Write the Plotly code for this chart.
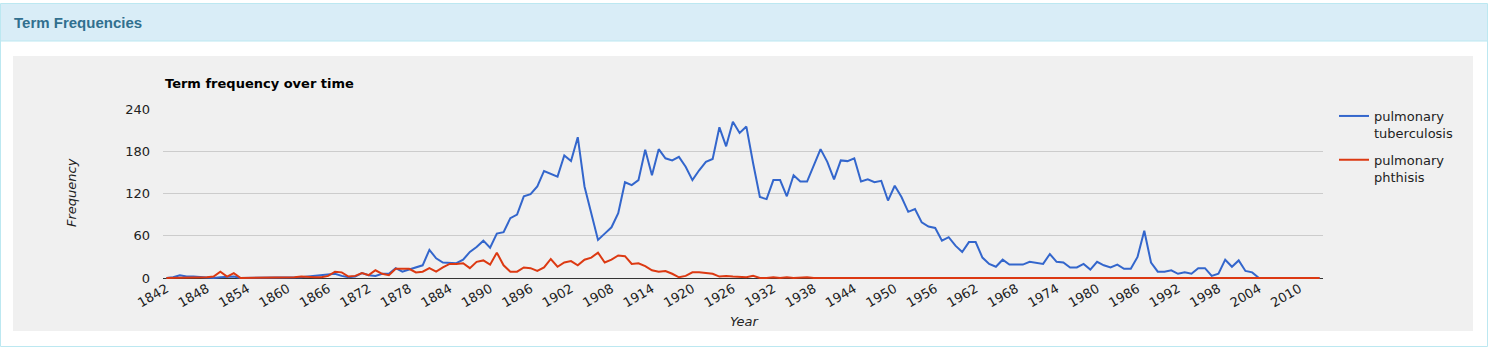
import plotly.graph_objects as go

# ---------------- data ----------------
years = list(range(1842, 2014))

tuberculosis = [
    0, 1, 4, 2, 2, 1, 1, 0, 1, 1,
    2, 0, 0, 0, 0, 1, 0, 1, 1, 1,
    1, 2, 3, 3, 4, 6, 3, 1, 2, 7,
    4, 3, 6, 6, 14, 9, 12, 15, 18, 40,
    28, 22, 21, 21, 26, 37, 44, 53, 43, 63,
    65, 85, 90, 116, 119, 130, 152, 148, 144, 174,
    166, 200, 130, 92, 54, 63, 72, 92, 136, 132,
    139, 182, 146, 183, 170, 167, 172, 158, 139, 153,
    165, 169, 214, 187, 222, 206, 215, 163, 115, 112,
    139, 139, 116, 146, 137, 137, 159, 183, 165, 140,
    167, 166, 170, 137, 140, 136, 138, 110, 131, 115,
    94, 98, 79, 73, 71, 53, 58, 46, 37, 51,
    51, 29, 20, 16, 26, 19, 19, 19, 23, 21,
    20, 34, 23, 22, 15, 15, 20, 12, 23, 18,
    15, 19, 13, 13, 30, 67, 22, 9, 9, 11,
    6, 8, 6, 14, 14, 3, 6, 26, 16, 25,
    10, 8, 0, 0, 0, 0, 0, 0, 0, 0,
    0, 0,
]

phthisis = [
    0, 0, 1, 1, 0, 1, 1, 2, 9, 2,
    7, 0, 0, 0, 0, 0, 1, 0, 1, 1,
    2, 1, 1, 1, 3, 9, 8, 2, 3, 7,
    4, 11, 6, 4, 13, 13, 13, 8, 9, 14,
    9, 15, 20, 20, 21, 14, 23, 25, 19, 36,
    18, 9, 9, 15, 14, 10, 15, 27, 16, 22,
    24, 18, 26, 29, 36, 22, 26, 32, 31, 20,
    21, 17, 11, 9, 10, 6, 1, 3, 8, 8,
    7, 6, 2, 3, 2, 1, 1, 3, 0, 0,
    1, 0, 1, 0, 1, 1, 0, 0, 1, 1,
    1, 1, 0, 0, 0, 0, 0, 1, 0, 0,
    0, 1, 0, 0, 0, 0, 0, 0, 0, 0,
    0, 0, 0, 0, 0, 0, 0, 0, 0, 0,
    0, 0, 0, 0, 0, 0, 0, 0, 0, 1,
    0, 0, 0, 0, 0, 0, 0, 0, 0, 0,
    0, 0, 0, 0, 0, 0, 0, 0, 0, 0,
    0, 0, 0, 0, 0, 0, 0, 0, 0, 0,
    0, 0,
]

x_tick_years = [1842, 1848, 1854, 1860, 1866, 1872, 1878, 1884, 1890, 1896,
                1902, 1908, 1914, 1920, 1926, 1932, 1938, 1944, 1950, 1956,
                1962, 1968, 1974, 1980, 1986, 1992, 1998, 2004, 2010]
y_tick_values = [0, 60, 120, 180, 240]

series_names = ["pulmonary<br>tuberculosis", "pulmonary<br>phthisis"]
series_colors = ["#3366cc", "#dc3912"]

# ---------------- layout geometry (pixels) ----------------
W, H = 1495, 351
PL, PR, PT = 163, 1323, 109   # plot area left/right/top
ZERO_Y = 278                   # pixel row of value 0
PB = 281                       # plot area bottom (a little below zero so the 0-line of the series shows)
Y_MAX = 240
units_per_px = Y_MAX / (ZERO_Y - PT)
Y_MIN = -(PB - ZERO_Y) * units_per_px


def px(xp):
    return (xp - PL) / (PR - PL)


def py(yp):
    return (PB - yp) / (PB - PT)


CHART_FONT = "DejaVu Sans"

fig = go.Figure()
for vals, name, col in zip([tuberculosis, phthisis], series_names, series_colors):
    fig.add_trace(go.Scatter(
        x=years, y=vals, mode="lines", name=name, legendgroup=name,
        line=dict(color=col, width=2),
        hoverinfo="x+y+name",
    ))

shapes = [
    # panel
    dict(type="rect", xref="paper", yref="paper", layer="below",
         x0=px(0.5), x1=px(1487.5), y0=py(3.5), y1=py(346.5),
         fillcolor="#ffffff", line=dict(color="#bce8f1", width=1)),
    # panel heading
    dict(type="rect", xref="paper", yref="paper", layer="below",
         x0=px(1), x1=px(1487), y0=py(4), y1=py(41),
         fillcolor="#d9edf7", line=dict(width=0)),
    dict(type="line", xref="paper", yref="paper", layer="below",
         x0=px(1), x1=px(1487), y0=py(41), y1=py(41),
         line=dict(color="#bce8f1", width=1)),
    # chart background
    dict(type="rect", xref="paper", yref="paper", layer="below",
         x0=px(13), x1=px(1473), y0=py(56), y1=py(331),
         fillcolor="#f0f0f0", line=dict(width=0)),
]

annotations = [
    dict(text="<b>Term Frequencies</b>", xref="paper", yref="paper",
         x=px(12), y=py(22), xanchor="left", yanchor="middle", showarrow=False,
         font=dict(family="Liberation Sans", size=15, color="#31708f")),
    dict(text="<b>Term frequency over time</b>", xref="paper", yref="paper",
         x=px(163), y=py(83), xanchor="left", yanchor="middle", showarrow=False,
         font=dict(family=CHART_FONT, size=13, color="#000000")),
    dict(text="<i>Frequency</i>", xref="paper", yref="paper",
         x=px(71), y=py(193), xanchor="center", yanchor="middle", showarrow=False,
         textangle=-90,
         font=dict(family=CHART_FONT, size=13, color="#222222")),
    dict(text="<i>Year</i>", xref="paper", yref="paper",
         x=px(745), y=py(321), xanchor="center", yanchor="middle", showarrow=False,
         font=dict(family=CHART_FONT, size=13, color="#222222")),
]

fig.update_layout(
    width=W, height=H,
    margin=dict(l=PL, r=W - PR, t=PT, b=H - PB, pad=0),
    paper_bgcolor="#ffffff",
    plot_bgcolor="rgba(0,0,0,0)",
    font=dict(family=CHART_FONT, size=13, color="#222222"),
    shapes=shapes,
    annotations=annotations,
    showlegend=True,
    legend=dict(
        x=px(1334), y=py(101), xanchor="left", yanchor="top",
        bgcolor="rgba(0,0,0,0)", borderwidth=0,
        font=dict(family=CHART_FONT, size=13, color="#222222"),
        valign="top", traceorder="grouped", tracegroupgap=7,
    ),
    xaxis=dict(
        range=[1841.5, 2013.5],
        tickmode="array", tickvals=x_tick_years,
        ticktext=[str(v) for v in x_tick_years],
        tickangle=-30, showgrid=False, zeroline=False,
        showline=False, ticks="", ticklabelstandoff=-3,
        tickfont=dict(family=CHART_FONT, size=13, color="#222222"),
    ),
    yaxis=dict(
        range=[Y_MIN, Y_MAX],
        tickmode="array", tickvals=y_tick_values,
        showgrid=True, gridcolor="#cccccc", gridwidth=1,
        zeroline=True, zerolinecolor="#333333", zerolinewidth=1,
        showline=False, ticks="", ticklabelstandoff=12,
        tickfont=dict(family=CHART_FONT, size=13, color="#222222"),
    ),
)

fig.write_html("out.html")
